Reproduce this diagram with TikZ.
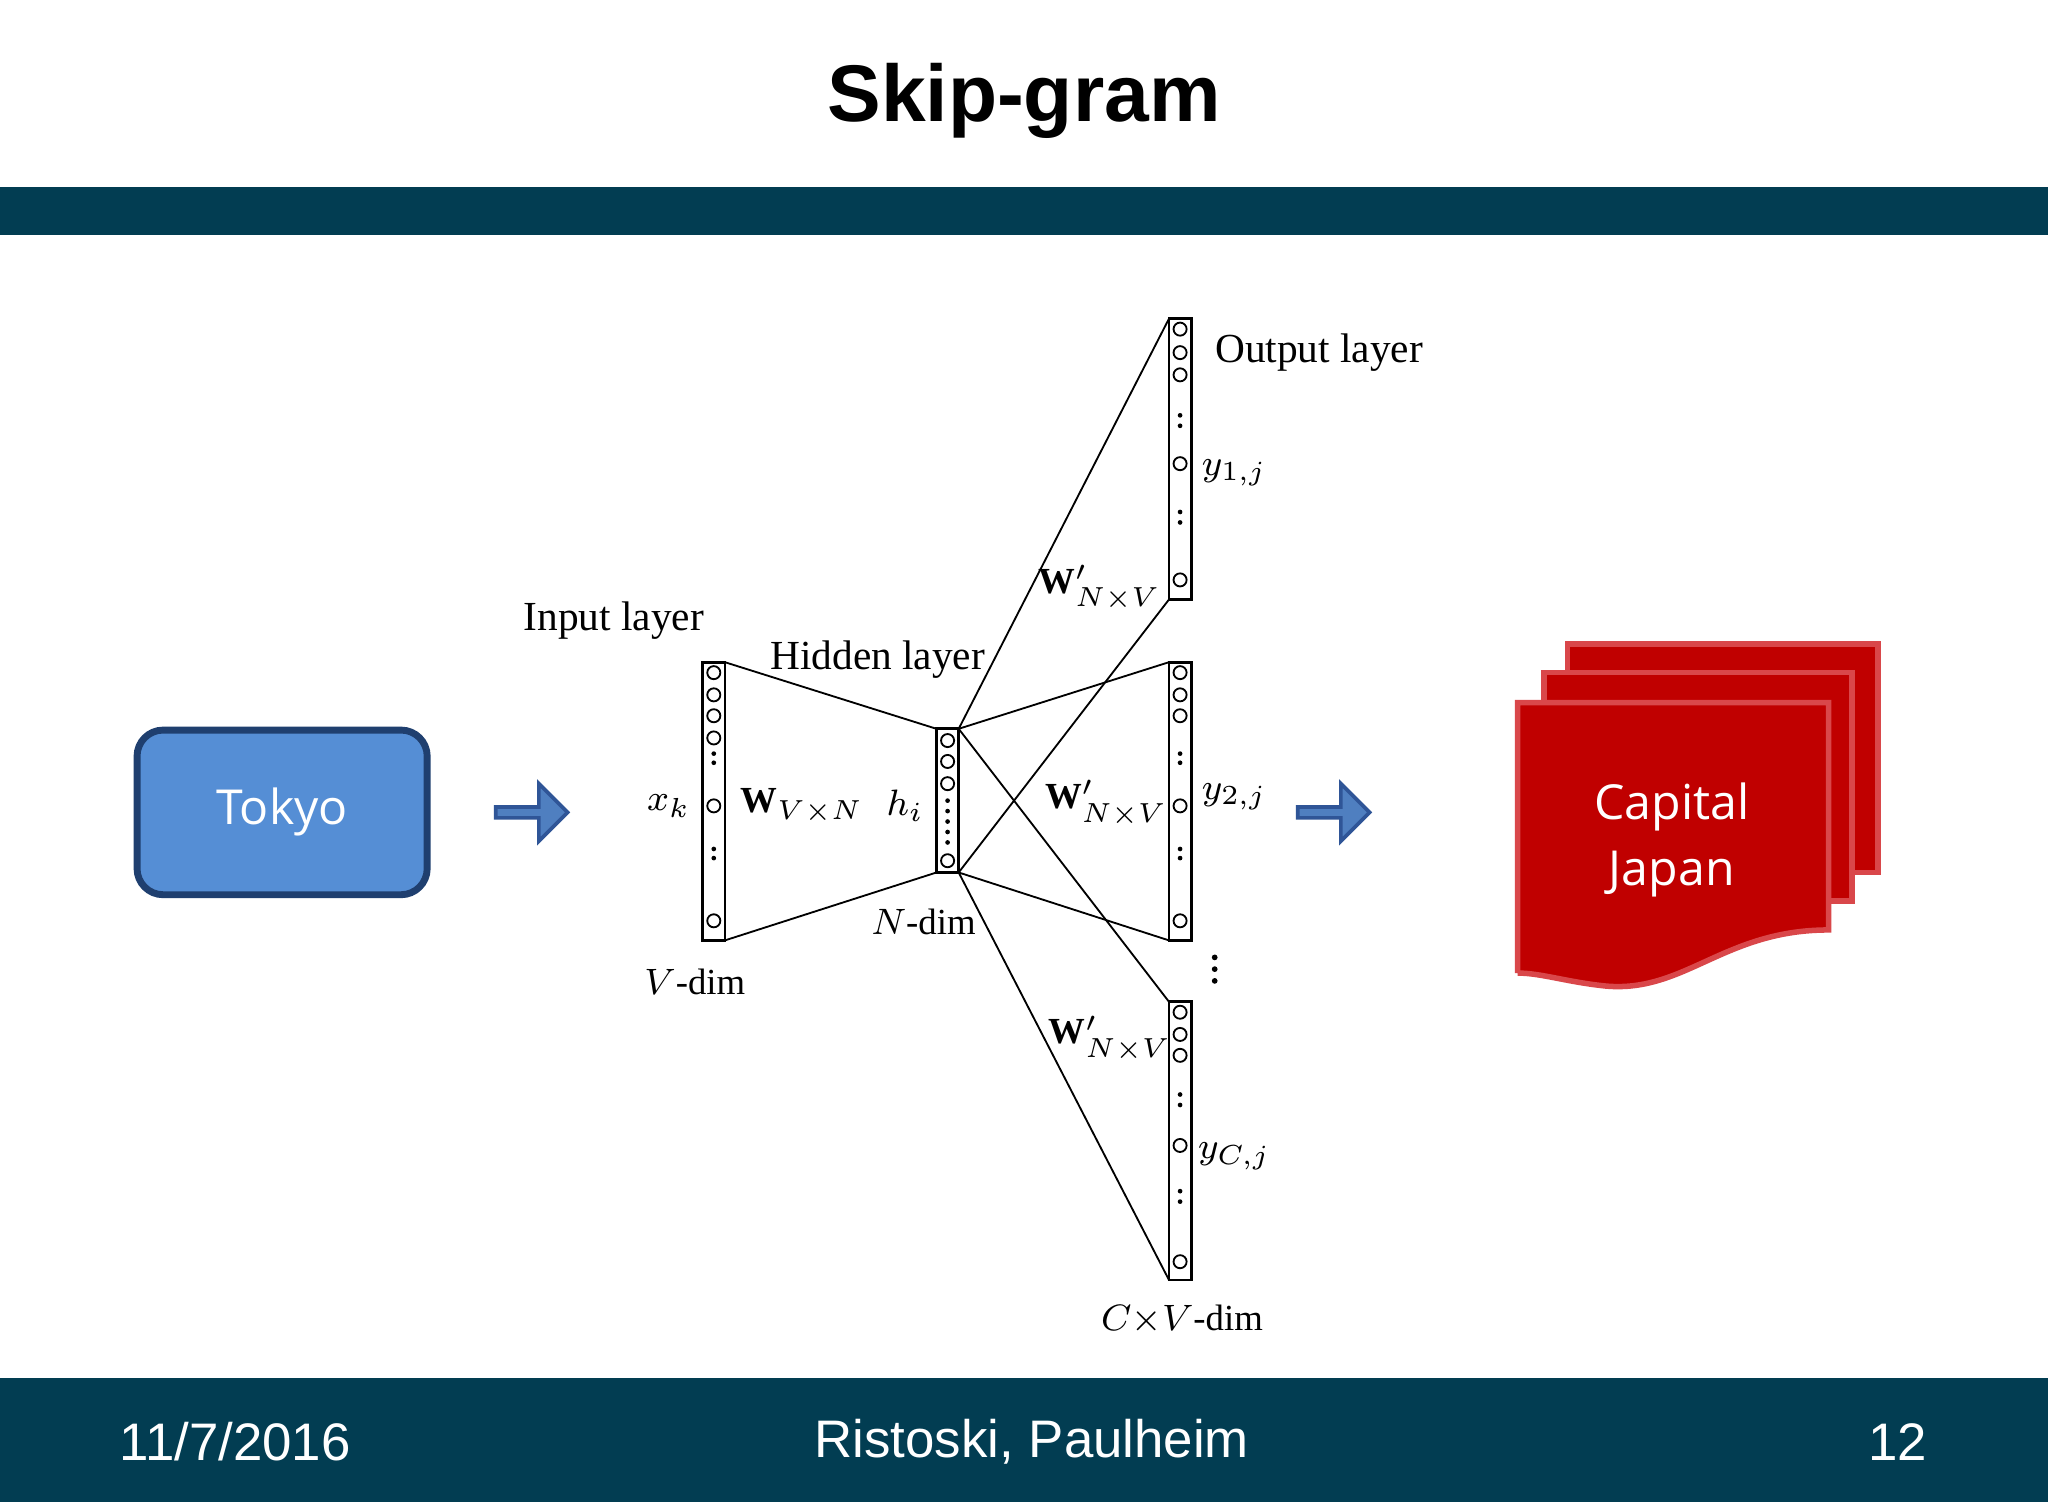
\documentclass[tikz,border=0pt]{standalone}
\usepackage{fontspec}
\setmainfont{Liberation Serif}
\newfontfamily\arialf{Liberation Sans}
\newfontfamily\opensf{Open Sans}
\usetikzlibrary{shapes.arrows}
\definecolor{bar}{HTML}{023D52}
\definecolor{tokfill}{HTML}{558ED5}
\definecolor{tokdraw}{HTML}{1F3F6F}
\definecolor{docred}{HTML}{C00000}
\definecolor{docline}{HTML}{D9474A}
\definecolor{arrf}{HTML}{4F7FC0}
\definecolor{arrd}{HTML}{2F5597}
\tikzset{
 col/.style={draw,line width=0.6pt},
 neur/.style={draw,circle,inner sep=0pt,minimum size=0.1cm,line width=0.4pt},
 lbl/.style={font=\fontsize{9}{10}\selectfont},
 mlbl/.style={font=\fontsize{8}{9}\selectfont},
 bigarrow/.style={single arrow,fill=arrf,draw=arrd,line width=0.8pt,minimum height=0.55cm,minimum width=0.44cm,single arrow head extend=0.06cm,inner sep=0pt},
 doc/.style={fill=docred,draw=docline,line width=1.2pt},
 foot/.style={text=white,font=\arialf\fontsize{11.5}{13}\selectfont}
}
\begin{document}
\begin{tikzpicture}[x=0.01cm,y=-0.01cm]
\useasboundingbox (0,0) rectangle (1568,1152);
\fill[white] (0,0) rectangle (1568,1152);
\node (title) at (784,77) {\arialf\bfseries\fontsize{17.5}{20}\selectfont Skip-gram};
\fill[bar] (0,143) rectangle (1568,180);
\fill[bar] (0,1055) rectangle (1568,1150);
\node[foot] (date) at (180,1104) {11/7/2016};
\node[foot] (auth) at (790,1104) {Ristoski, Paulheim};
\node[foot] (pg) at (1453,1104) {12};
% Tokyo
\node[draw=tokdraw,fill=tokfill,line width=1.5pt,rounded corners=0.2cm,minimum width=2.22cm,minimum height=1.26cm,text=white,font=\opensf\fontsize{10.5}{12}\selectfont] (tokyo) at (216,622) {Tokyo};
\node[bigarrow] (a1) at (405,622) {};
\node[bigarrow] (a2) at (1019,622) {};
% columns
\coordinate (itl) at (538,507); \coordinate (ibr) at (555,720);
\draw[col] (itl) rectangle (ibr);
\coordinate (htl) at (717,558); \coordinate (hbr) at (734,668);
\draw[col] (htl) rectangle (hbr);
\draw[col] (895,244) rectangle (912,459);
\draw[col] (895,507) rectangle (912,720);
\draw[col] (895,767) rectangle (912,980);
% input neurons
\foreach \y in {515,532,548,565,617,705} \node[neur] at (546.5,\y) {};
\foreach \y in {577,584,650,657} \fill (546.5,\y) circle (1.8);
% hidden
\foreach \y in {567,583,600,659} \node[neur] at (725.5,\y) {};
\foreach \y in {613,621,629,637,645} \fill (725.5,\y) circle (1.8);
% output 1
\foreach \y in {252,270,287,355,444} \node[neur] at (903.5,\y) {};
\foreach \y in {318,326,392,400} \fill (903.5,\y) circle (1.8);
% output 2
\foreach \y in {515,532,548,617,705} \node[neur] at (903.5,\y) {};
\foreach \y in {577,584,650,657} \fill (903.5,\y) circle (1.8);
% output 3
\foreach \y in {775,792,808,877,966} \node[neur] at (903.5,\y) {};
\foreach \y in {838,846,912,920} \fill (903.5,\y) circle (1.8);
\foreach \y in {733,742,751} \fill (930,\y) circle (2.2);
% connections
\draw (555,507) -- (717,558);
\draw (555,720) -- (717,668);
\draw (734,558) -- (895,244);
\draw (734,668) -- (895,459);
\draw (734,558) -- (895,507);
\draw (734,668) -- (895,720);
\draw (734,558) -- (895,767);
\draw (734,668) -- (895,980);
% labels
\node[lbl] (il) at (470,475) {Input layer};
\node[lbl] (hl) at (672,505) {Hidden layer};
\node[lbl] (ol) at (1010,270) {Output layer};
\node[mlbl] (xk) at (512,617) {$x_k$};
\node[mlbl] (wvn) at (614,617) {$\mathbf{W}_{V\times N}$};
\node[mlbl] (hi) at (693,617) {$h_i$};
\node[mlbl] (nd) at (707,706) {$N$-dim};
\node[mlbl] (vd) at (532,752) {$V$-dim};
\node[mlbl] (w1) at (842,450) {$\mathbf{W}'_{N\times V}$};
\node[mlbl] (w2) at (847,615) {$\mathbf{W}'_{N\times V}$};
\node[mlbl] (w3) at (850,795) {$\mathbf{W}'_{N\times V}$};
\node[mlbl] (y1) at (945,362) {$y_{1,j}$};
\node[mlbl] (y2) at (945,610) {$y_{2,j}$};
\node[mlbl] (yc) at (945,885) {$y_{C,j}$};
\node[mlbl] (cvd) at (905,1010) {$C{\times}V$-dim};
% documents
\draw[doc] (1200,668) -- (1200,493) -- (1438,493) -- (1438,668) -- cycle;
\draw[doc] (1182,690) -- (1182,515) -- (1418,515) -- (1418,690) -- cycle;
\draw[doc] (1162,745) -- (1162,538) -- (1400,538) -- (1400,712)
  .. controls (1320,712) and (1290,760) .. (1230,755)
  .. controls (1200,752) and (1180,745) .. (1162,745);
\node[text=white,align=center,font=\opensf\fontsize{10.5}{14.5}\selectfont] (cap) at (1280,643) {Capital\\Japan};
\end{tikzpicture}
\end{document}
